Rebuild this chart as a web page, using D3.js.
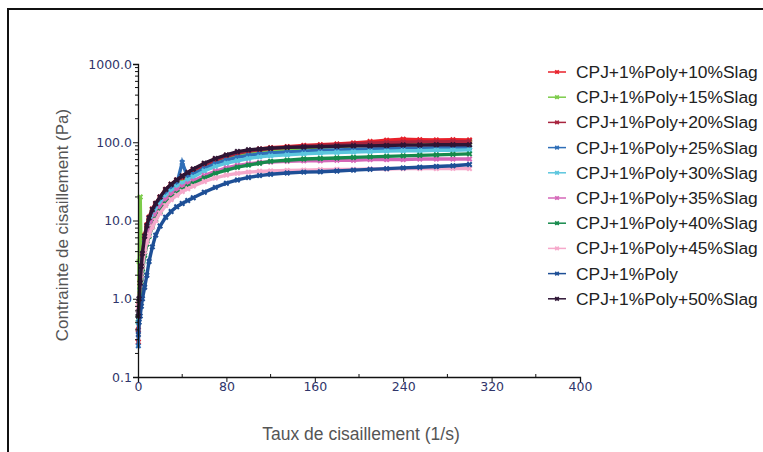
<!DOCTYPE html>
<html>
<head>
<meta charset="utf-8">
<script src="https://cdn.jsdelivr.net/npm/d3@7"></script>
<style>
  html, body { margin: 0; padding: 0; background: #fff; }
  svg { display: block; font-family: "Liberation Sans", Arial, sans-serif; }
</style>
</head>
<body>
<svg id="chart" width="763" height="452"></svg>
<script>
// taux de cisaillement (1/s), commun à toutes les séries
const shearRates = [0.3, 1, 2, 3, 4, 6, 8, 10, 13, 16, 20, 25, 30, 35, 40, 45, 50, 60, 70, 80,
    90, 100, 110, 120, 135, 150, 165, 180, 195, 210, 225, 240, 255, 270, 285, 300];

// contrainte (Pa)
const slag10 = [0.28, 0.9, 1.7, 2.8, 4, 6.5, 8.8, 11, 14, 16.5, 20, 25, 29, 33, 37, 41, 45, 53, 61, 68,
    74, 78, 82, 85, 88, 91, 93, 95, 98, 102, 106, 109, 108, 107, 108, 107];
const slag15 = [0.5, 3, 20, 2.5, 3.5, 5.7, 7.7, 9.8, 12.5, 15, 18.3, 23, 27, 30.5, 34, 37.5, 41, 48, 55, 62,
    68, 72, 76, 79, 82, 84, 86, 88, 90, 92, 94, 96, 97, 98, 99, 100];
const slag20 = [0.4, 0.9, 1.6, 2.6, 3.7, 6, 8.2, 10.3, 13, 15.8, 19.2, 24, 28, 32, 35.5, 39.5, 43.5, 51, 59, 66,
    72, 77, 80, 83, 86, 89, 91, 93, 95, 97, 99, 100, 101, 101, 102, 102];
const slag25 = [0.25, 0.8, 1.3, 2.2, 3.1, 5.2, 7, 8.9, 11.5, 14, 17.3, 21.5, 25.5, 29, 55, 35.5, 39, 46, 53, 59,
    64, 68, 71, 73, 75, 77, 79, 80, 81, 82, 83, 84, 84, 85, 85, 86];
const slag30 = [0.5, 1, 1.2, 2, 2.8, 4.7, 6.3, 8, 10.4, 12.8, 16, 20, 23.5, 27, 30, 33, 36, 43, 49, 54,
    58, 62, 65, 67, 69, 71, 73, 74, 75, 76, 77, 78, 78, 79, 79, 80];
const slag35 = [0.7, 0.8, 1.2, 1.8, 2.6, 4.3, 5.8, 7.3, 9.5, 11.7, 14.7, 18.3, 21.5, 24.5, 27, 29.5, 32, 37.5, 42.5, 47,
    50.5, 53, 55, 56, 57, 58, 58, 59, 59, 60, 60, 60, 61, 61, 61, 61];
const slag40 = [0.6, 0.7, 1, 1.5, 2.2, 3.6, 5, 6.3, 8.3, 10.3, 13, 16.3, 19.3, 22, 24.5, 27, 29.5, 35, 40, 44,
    48, 51, 54, 57, 59, 61, 62, 63, 64, 65, 66, 67, 68, 69, 70, 71];
const slag45 = [0.8, 1, 1.5, 2, 2.6, 4, 5.3, 6.5, 8.3, 10, 12.5, 15.5, 18.5, 21, 23.5, 25.5, 27.5, 31.5, 35, 38,
    40, 41.5, 42.5, 43, 43.5, 44, 44.5, 45, 45, 45.5, 45.5, 46, 46, 46, 46.5, 46];
const poly1 = [0.35, 0.5, 0.6, 0.8, 1, 1.4, 2, 3, 4.6, 6.5, 8.5, 11, 13, 15, 16.5, 18, 19.5, 23, 26.5, 30,
    33, 35.5, 37.5, 39, 40.5, 41.5, 42, 43, 44, 45, 46, 47, 48, 49, 50, 52];
const slag50 = [0.6, 1, 1.6, 2.6, 3.8, 6.3, 8.6, 10.8, 13.8, 16.5, 20, 25, 29, 33, 37, 41, 45.5, 54, 62, 69,
    76, 80, 82, 84, 86, 87, 88, 89, 90, 90, 91, 92, 92, 93, 93, 93];

const seriesNames = ["CPJ+1%Poly+10%Slag", "CPJ+1%Poly+15%Slag", "CPJ+1%Poly+20%Slag", "CPJ+1%Poly+25%Slag",
    "CPJ+1%Poly+30%Slag", "CPJ+1%Poly+35%Slag", "CPJ+1%Poly+40%Slag", "CPJ+1%Poly+45%Slag",
    "CPJ+1%Poly", "CPJ+1%Poly+50%Slag"];
const seriesValues = [slag10, slag15, slag20, slag25, slag30, slag35, slag40, slag45, poly1, slag50];
const seriesColors = ["#e8202a", "#7ccc4a", "#a8243e", "#2f6fb8", "#5cc6de", "#d567b8",
    "#168a4c", "#f6a9cb", "#1e4f96", "#2e1535"];

const xTicks = [0, 80, 160, 240, 320, 400];
const yTicks = [0.1, 1, 10, 100, 1000];

// mise en page
const svg = d3.select("#chart");
const plot = { left: 138, right: 580, top: 64, bottom: 377 };

const x = d3.scaleLinear().domain([0, 400]).range([plot.left, plot.right]);
const y = d3.scaleLog().domain([0.1, 1000]).range([plot.bottom, plot.top]);

// cadre
svg.append("path")
    .attr("d", "M8,452 V9 H763")
    .attr("fill", "none")
    .attr("stroke", "#111")
    .attr("stroke-width", 2);

// séries
const line = d3.line()
    .x((d, i) => x(shearRates[i]))
    .y(d => y(d));

const cross = d3.symbol().type(d3.symbolCross).size(22);

seriesValues.forEach((vals, k) => {
    const g = svg.append("g");
    g.append("path")
        .datum(vals)
        .attr("d", line)
        .attr("fill", "none")
        .attr("stroke", seriesColors[k])
        .attr("stroke-width", 3.4);
    g.selectAll("path.m")
        .data(vals)
        .join("path")
        .attr("class", "m")
        .attr("d", cross)
        .attr("transform", (d, i) => `translate(${x(shearRates[i])},${y(d)}) rotate(45)`)
        .attr("fill", seriesColors[k]);
});

// axes
const tickColor = "#30356a";

const yAxis = svg.append("g")
    .attr("transform", `translate(${plot.left},0)`)
    .call(d3.axisLeft(y).tickValues(yTicks).tickSize(5).tickFormat(d3.format(".1f")));
const yMinor = [];
[0.1, 1, 10, 100].forEach(b => { for (let m = 2; m <= 9; m++) yMinor.push(b * m); });
yAxis.selectAll(".minor")
    .data(yMinor)
    .join("line")
    .attr("class", "minor")
    .attr("x1", 0).attr("x2", -3)
    .attr("y1", d => y(d)).attr("y2", d => y(d))
    .attr("stroke", "#111");

const xAxis = svg.append("g")
    .attr("transform", `translate(0,${plot.bottom})`)
    .call(d3.axisBottom(x).tickValues(xTicks).tickSize(5).tickFormat(d3.format("d")));
xAxis.selectAll(".minor")
    .data([40, 120, 200, 280, 360])
    .join("line")
    .attr("class", "minor")
    .attr("x1", d => x(d)).attr("x2", d => x(d))
    .attr("y1", 0).attr("y2", -3)
    .attr("stroke", "#111");

[xAxis, yAxis].forEach(a => {
    a.select(".domain").attr("stroke", "#111").attr("stroke-width", 1.3);
    a.selectAll(".tick line").attr("stroke", "#111");
    a.selectAll(".tick text")
        .attr("fill", tickColor)
        .style("font-family", "'DejaVu Sans', sans-serif")
        .style("font-size", "12.5px");
});
yAxis.selectAll(".tick text").attr("x", -6);
xAxis.selectAll(".tick text").attr("y", 5);

// titres des axes
svg.append("text")
    .attr("x", 361)
    .attr("y", 440)
    .attr("text-anchor", "middle")
    .attr("fill", "#555")
    .style("font-size", "17.5px")
    .text("Taux de cisaillement (1/s)");

svg.append("text")
    .attr("transform", "translate(68,225) rotate(-90)")
    .attr("text-anchor", "middle")
    .attr("fill", "#555")
    .style("font-size", "17px")
    .text("Contrainte de cisaillement (Pa)");

// légende
const legend = svg.append("g").attr("transform", "translate(548,72)");
seriesNames.forEach((name, k) => {
    const row = legend.append("g").attr("transform", `translate(0,${k * 25.2})`);
    row.append("line")
        .attr("x1", 0).attr("x2", 18)
        .attr("stroke", seriesColors[k])
        .attr("stroke-width", 1.5);
    row.append("path")
        .attr("d", d3.symbol().type(d3.symbolCross).size(14))
        .attr("transform", "translate(9,0) rotate(45)")
        .attr("fill", seriesColors[k]);
    row.append("text")
        .attr("x", 28)
        .attr("y", 6)
        .attr("fill", "#222")
        .style("font-size", "17.4px")
        .text(name);
});
</script>
</body>
</html>
